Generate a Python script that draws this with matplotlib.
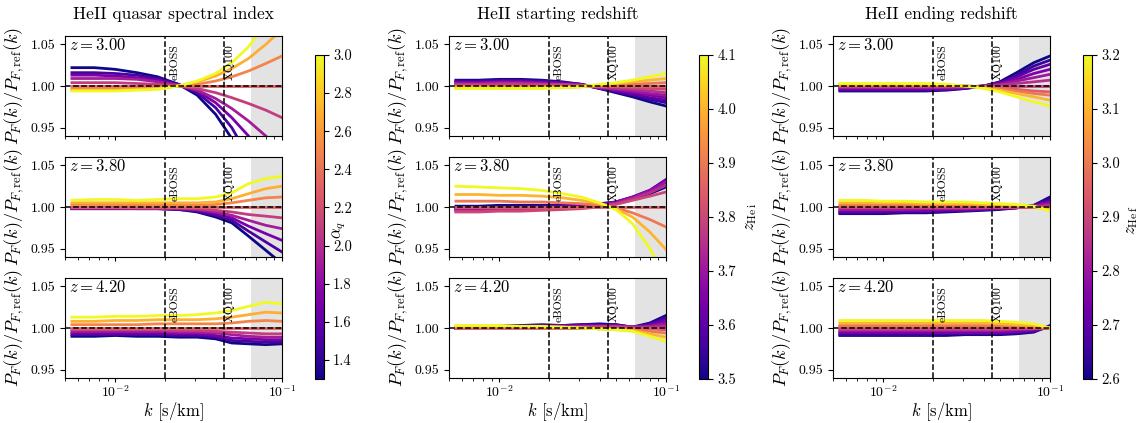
import matplotlib.pyplot as plt
import matplotlib as mpl

plt.rcParams['font.family'] = 'serif'
plt.rcParams['font.serif'] = ['cmr10']
plt.rcParams['mathtext.fontset'] = 'cm'
plt.rcParams['axes.formatter.use_mathtext'] = True
plt.rcParams['axes.unicode_minus'] = False

# wavenumber grid [s/km]
k = [0.0055, 0.0075, 0.01, 0.0135, 0.018, 0.024, 0.031, 0.04, 0.05, 0.063, 0.08, 0.1]

redshifts = ['3.00', '3.80', '4.20']
titles = ['HeII quasar spectral index', 'HeII starting redshift', 'HeII ending redshift']

# --- HeII quasar spectral index ---
alpha_q = [1.3, 1.5, 1.7, 1.9, 2.1, 2.3, 2.5, 2.7, 3.0]
aq_z300 = [
    [1.022, 1.022, 1.020, 1.016, 1.011, 1.002, 0.989, 0.966, 0.937, 0.895, 0.850, 0.800],
    [1.016, 1.016, 1.015, 1.013, 1.009, 1.002, 0.992, 0.974, 0.950, 0.915, 0.880, 0.840],
    [1.013, 1.013, 1.012, 1.010, 1.007, 1.001, 0.994, 0.980, 0.962, 0.940, 0.915, 0.890],
    [1.009, 1.009, 1.009, 1.008, 1.005, 1.001, 0.995, 0.985, 0.973, 0.958, 0.940, 0.920],
    [1.004, 1.004, 1.004, 1.003, 1.002, 1.000, 0.997, 0.992, 0.986, 0.979, 0.971, 0.962],
    [1.000, 1.000, 1.000, 1.000, 1.000, 1.000, 1.000, 1.000, 1.000, 1.000, 1.000, 1.000],
    [0.997, 0.997, 0.997, 0.997, 0.998, 1.000, 1.002, 1.006, 1.011, 1.018, 1.027, 1.036],
    [0.995, 0.995, 0.995, 0.996, 0.997, 1.000, 1.005, 1.012, 1.021, 1.033, 1.050, 1.068],
    [0.994, 0.994, 0.994, 0.995, 0.996, 1.000, 1.006, 1.015, 1.028, 1.047, 1.075, 1.110],
]
aq_z380 = [
    [0.998, 0.998, 0.998, 0.998, 0.998, 0.997, 0.994, 0.988, 0.981, 0.965, 0.948, 0.932],
    [0.998, 0.998, 0.998, 0.998, 0.998, 0.997, 0.995, 0.990, 0.984, 0.971, 0.958, 0.946],
    [0.998, 0.998, 0.998, 0.998, 0.998, 0.998, 0.996, 0.992, 0.987, 0.977, 0.968, 0.960],
    [0.999, 0.999, 0.999, 0.998, 0.998, 0.998, 0.997, 0.994, 0.990, 0.984, 0.978, 0.974],
    [0.999, 0.999, 0.999, 0.999, 0.999, 0.999, 0.998, 0.996, 0.994, 0.991, 0.989, 0.987],
    [1.000, 1.000, 1.000, 1.000, 1.000, 1.000, 1.000, 1.000, 1.000, 1.000, 1.000, 1.000],
    [1.003, 1.003, 1.003, 1.002, 1.002, 1.002, 1.002, 1.003, 1.005, 1.008, 1.011, 1.012],
    [1.005, 1.005, 1.005, 1.005, 1.005, 1.005, 1.005, 1.006, 1.010, 1.016, 1.022, 1.025],
    [1.008, 1.009, 1.009, 1.008, 1.009, 1.010, 1.010, 1.012, 1.017, 1.028, 1.034, 1.037],
]
aq_z420 = [
    [0.990, 0.990, 0.991, 0.990, 0.990, 0.989, 0.989, 0.987, 0.982, 0.981, 0.980, 0.981],
    [0.992, 0.992, 0.992, 0.992, 0.992, 0.991, 0.991, 0.989, 0.985, 0.984, 0.983, 0.983],
    [0.994, 0.994, 0.994, 0.994, 0.994, 0.993, 0.993, 0.991, 0.988, 0.987, 0.986, 0.986],
    [0.996, 0.996, 0.996, 0.996, 0.996, 0.995, 0.995, 0.994, 0.992, 0.990, 0.989, 0.989],
    [0.998, 0.998, 0.998, 0.998, 0.998, 0.997, 0.997, 0.996, 0.995, 0.994, 0.993, 0.993],
    [1.000, 1.000, 1.000, 1.000, 1.000, 1.000, 1.000, 1.000, 1.000, 1.000, 1.000, 1.000],
    [1.004, 1.004, 1.004, 1.004, 1.005, 1.005, 1.005, 1.005, 1.006, 1.008, 1.009, 1.008],
    [1.008, 1.008, 1.009, 1.009, 1.010, 1.010, 1.010, 1.011, 1.013, 1.016, 1.019, 1.018],
    [1.013, 1.013, 1.014, 1.014, 1.015, 1.015, 1.016, 1.018, 1.021, 1.026, 1.031, 1.029],
]

# --- HeII starting redshift ---
z_hei = [3.5, 3.55, 3.6, 3.65, 3.7, 3.75, 3.8, 3.85, 3.9, 4.0, 4.1]
zi_z300 = [
    [1.007, 1.007, 1.008, 1.008, 1.007, 1.005, 1.002, 0.997, 0.992, 0.987, 0.981, 0.976],
    [1.006, 1.006, 1.007, 1.007, 1.006, 1.004, 1.002, 0.997, 0.993, 0.989, 0.984, 0.980],
    [1.005, 1.005, 1.006, 1.006, 1.005, 1.004, 1.002, 0.998, 0.994, 0.990, 0.986, 0.983],
    [1.004, 1.004, 1.005, 1.005, 1.004, 1.003, 1.001, 0.998, 0.995, 0.992, 0.989, 0.986],
    [1.003, 1.003, 1.004, 1.004, 1.003, 1.002, 1.001, 0.998, 0.996, 0.994, 0.991, 0.989],
    [1.002, 1.002, 1.003, 1.003, 1.002, 1.002, 1.001, 0.999, 0.997, 0.996, 0.994, 0.992],
    [1.001, 1.001, 1.001, 1.001, 1.001, 1.001, 1.000, 0.999, 0.999, 0.998, 0.997, 0.996],
    [1.000, 1.000, 1.000, 1.000, 1.000, 1.000, 1.000, 1.000, 1.000, 1.000, 1.000, 1.000],
    [0.999, 0.999, 0.999, 0.999, 0.999, 0.999, 1.000, 1.001, 1.001, 1.002, 1.003, 1.004],
    [0.998, 0.998, 0.998, 0.998, 0.998, 0.998, 0.999, 1.001, 1.003, 1.005, 1.007, 1.009],
    [0.997, 0.997, 0.997, 0.997, 0.997, 0.998, 0.999, 1.002, 1.004, 1.007, 1.011, 1.015],
]
zi_z380 = [
    [1.001, 1.001, 1.002, 1.002, 1.002, 1.002, 1.003, 1.004, 1.006, 1.010, 1.016, 1.024],
    [0.999, 0.999, 1.000, 1.000, 1.001, 1.001, 1.002, 1.003, 1.006, 1.011, 1.019, 1.030],
    [0.998, 0.998, 0.999, 0.999, 1.000, 1.001, 1.002, 1.003, 1.006, 1.012, 1.020, 1.033],
    [0.997, 0.997, 0.998, 0.998, 0.999, 1.000, 1.001, 1.003, 1.006, 1.012, 1.020, 1.032],
    [0.996, 0.996, 0.997, 0.997, 0.998, 0.999, 1.000, 1.002, 1.005, 1.011, 1.019, 1.030],
    [0.995, 0.995, 0.996, 0.996, 0.997, 0.998, 0.999, 1.001, 1.004, 1.010, 1.017, 1.026],
    [0.994, 0.994, 0.995, 0.995, 0.996, 0.997, 0.998, 1.000, 1.003, 1.008, 1.013, 1.018],
    [1.000, 1.000, 1.000, 1.000, 1.000, 1.000, 1.000, 1.000, 1.000, 1.000, 1.000, 1.000],
    [1.007, 1.007, 1.007, 1.006, 1.006, 1.005, 1.004, 1.002, 0.999, 0.993, 0.985, 0.976],
    [1.015, 1.015, 1.014, 1.014, 1.013, 1.011, 1.008, 1.004, 0.998, 0.988, 0.970, 0.949],
    [1.025, 1.024, 1.023, 1.022, 1.020, 1.016, 1.012, 1.005, 0.997, 0.980, 0.950, 0.915],
]
zi_z420 = [
    [1.000, 1.001, 1.002, 1.003, 1.004, 1.003, 1.004, 1.005, 1.004, 1.001, 1.006, 1.015],
    [1.000, 1.001, 1.002, 1.003, 1.003, 1.003, 1.004, 1.004, 1.004, 1.001, 1.005, 1.013],
    [1.000, 1.001, 1.002, 1.002, 1.003, 1.003, 1.003, 1.003, 1.003, 1.001, 1.004, 1.011],
    [1.000, 1.001, 1.002, 1.002, 1.002, 1.002, 1.003, 1.003, 1.003, 1.001, 1.003, 1.008],
    [1.000, 1.001, 1.001, 1.002, 1.002, 1.002, 1.002, 1.002, 1.002, 1.001, 1.002, 1.005],
    [1.000, 1.001, 1.001, 1.001, 1.001, 1.001, 1.001, 1.002, 1.002, 1.001, 1.001, 1.002],
    [1.000, 1.000, 1.001, 1.001, 1.001, 1.001, 1.001, 1.001, 1.001, 1.000, 0.999, 0.998],
    [1.000, 1.000, 1.000, 1.000, 1.000, 1.000, 1.000, 1.000, 1.000, 1.000, 1.000, 1.000],
    [1.001, 1.001, 1.001, 1.001, 1.001, 1.000, 1.000, 0.999, 0.999, 0.998, 0.996, 0.994],
    [1.002, 1.002, 1.002, 1.002, 1.001, 1.001, 1.000, 0.999, 0.998, 0.997, 0.993, 0.989],
    [1.003, 1.003, 1.003, 1.002, 1.002, 1.001, 1.000, 0.999, 0.998, 0.996, 0.990, 0.984],
]

# --- HeII ending redshift ---
z_hef = [2.6, 2.65, 2.7, 2.75, 2.8, 2.85, 2.9, 2.95, 3.0, 3.1, 3.2]
zf_z300 = [
    [0.994, 0.994, 0.994, 0.994, 0.994, 0.995, 0.997, 1.000, 1.005, 1.016, 1.028, 1.036],
    [0.995, 0.995, 0.995, 0.995, 0.995, 0.996, 0.997, 1.000, 1.004, 1.013, 1.024, 1.031],
    [0.996, 0.996, 0.996, 0.996, 0.996, 0.996, 0.998, 1.000, 1.004, 1.011, 1.020, 1.026],
    [0.997, 0.997, 0.997, 0.997, 0.997, 0.997, 0.998, 1.000, 1.003, 1.008, 1.015, 1.020],
    [0.998, 0.998, 0.998, 0.998, 0.998, 0.998, 0.999, 1.000, 1.002, 1.006, 1.010, 1.014],
    [0.999, 0.999, 0.999, 0.999, 0.999, 0.999, 0.999, 1.000, 1.001, 1.003, 1.005, 1.007],
    [1.000, 1.000, 1.000, 1.000, 1.000, 1.000, 1.000, 1.000, 1.000, 1.000, 1.000, 1.000],
    [1.001, 1.001, 1.001, 1.001, 1.001, 1.001, 1.000, 0.999, 0.998, 0.996, 0.994, 0.993],
    [1.001, 1.001, 1.001, 1.001, 1.001, 1.001, 1.000, 0.999, 0.997, 0.994, 0.991, 0.989],
    [1.002, 1.002, 1.002, 1.002, 1.002, 1.001, 1.000, 0.998, 0.995, 0.991, 0.987, 0.983],
    [1.003, 1.003, 1.003, 1.003, 1.003, 1.002, 1.000, 0.997, 0.993, 0.987, 0.981, 0.976],
]
zf_z380 = [
    [0.992, 0.992, 0.992, 0.993, 0.993, 0.994, 0.995, 0.996, 0.997, 0.999, 1.002, 1.012],
    [0.993, 0.993, 0.993, 0.994, 0.994, 0.995, 0.996, 0.997, 0.998, 0.999, 1.002, 1.010],
    [0.994, 0.994, 0.995, 0.995, 0.995, 0.996, 0.996, 0.997, 0.998, 0.999, 1.001, 1.008],
    [0.996, 0.996, 0.996, 0.996, 0.996, 0.997, 0.997, 0.998, 0.999, 0.999, 1.001, 1.006],
    [0.997, 0.997, 0.997, 0.997, 0.998, 0.998, 0.998, 0.999, 0.999, 1.000, 1.001, 1.004],
    [0.999, 0.999, 0.999, 0.999, 0.999, 0.999, 0.999, 0.999, 1.000, 1.000, 1.000, 1.002],
    [1.000, 1.000, 1.000, 1.000, 1.000, 1.000, 1.000, 1.000, 1.000, 1.000, 1.000, 1.000],
    [1.001, 1.001, 1.001, 1.001, 1.001, 1.001, 1.001, 1.001, 1.000, 1.000, 1.000, 0.999],
    [1.002, 1.002, 1.002, 1.002, 1.002, 1.002, 1.002, 1.002, 1.001, 1.001, 1.000, 0.998],
    [1.005, 1.005, 1.005, 1.005, 1.004, 1.004, 1.004, 1.003, 1.003, 1.002, 1.000, 0.997],
    [1.008, 1.008, 1.007, 1.007, 1.006, 1.006, 1.006, 1.005, 1.004, 1.003, 1.001, 0.995],
]
zf_z420 = [
    [0.991, 0.991, 0.991, 0.991, 0.991, 0.991, 0.992, 0.992, 0.992, 0.993, 0.995, 1.003],
    [0.992, 0.992, 0.992, 0.992, 0.992, 0.993, 0.993, 0.993, 0.993, 0.994, 0.996, 1.002],
    [0.994, 0.994, 0.994, 0.994, 0.994, 0.994, 0.994, 0.994, 0.994, 0.995, 0.997, 1.001],
    [0.995, 0.995, 0.995, 0.995, 0.995, 0.995, 0.995, 0.995, 0.995, 0.996, 0.998, 1.001],
    [0.997, 0.997, 0.997, 0.997, 0.997, 0.997, 0.997, 0.997, 0.997, 0.998, 0.999, 1.000],
    [0.998, 0.998, 0.998, 0.998, 0.998, 0.998, 0.998, 0.998, 0.998, 0.999, 0.999, 1.000],
    [1.000, 1.000, 1.000, 1.000, 1.000, 1.000, 1.000, 1.000, 1.000, 1.000, 1.000, 1.000],
    [1.002, 1.002, 1.002, 1.002, 1.002, 1.002, 1.002, 1.002, 1.002, 1.001, 1.001, 1.000],
    [1.003, 1.003, 1.003, 1.003, 1.003, 1.003, 1.003, 1.003, 1.003, 1.002, 1.001, 1.000],
    [1.006, 1.006, 1.006, 1.006, 1.006, 1.006, 1.006, 1.006, 1.005, 1.004, 1.003, 1.000],
    [1.009, 1.009, 1.009, 1.009, 1.009, 1.009, 1.009, 1.009, 1.008, 1.007, 1.005, 1.000],
]

columns = [
    (alpha_q, [aq_z300, aq_z380, aq_z420], 1.3, 3.0, [1.4, 1.6, 1.8, 2.0, 2.2, 2.4, 2.6, 2.8, 3.0], r'$\alpha_q$'),
    (z_hei, [zi_z300, zi_z380, zi_z420], 3.5, 4.1, [3.5, 3.6, 3.7, 3.8, 3.9, 4.0, 4.1], r'$z_{\mathrm{He\,i}}$'),
    (z_hef, [zf_z300, zf_z380, zf_z420], 2.6, 3.2, [2.6, 2.7, 2.8, 2.9, 3.0, 3.1, 3.2], r'$z_{\mathrm{He\,f}}$'),
]
# colorbar label placement (cax axes coords)
cbar_label_xy = [(1.8, 0.46), (5.25, 0.5), (4.9, 0.49)]

W, H = 1147, 423
fig = plt.figure(figsize=(W / 100, H / 100), dpi=100)


def px_axes(x, y, w, h):
    return fig.add_axes([x / W, 1 - (y + h) / H, w / W, h / H])


col_left = [65, 449, 833]
row_top = [36, 157, 278]
cbar_left = [315, 699, 1083]
cmap = plt.get_cmap('plasma')

for c, (params, panels, vmin, vmax, cticks, clabel) in enumerate(columns):
    norm = mpl.colors.Normalize(vmin=vmin, vmax=vmax)
    for r, ratios in enumerate(panels):
        ax = px_axes(col_left[c], row_top[r], 217, 100)
        ax.axvspan(0.065, 0.1, color='#e3e3e3', lw=0, zorder=0)
        for p, vals in zip(params, ratios):
            ax.plot(k, vals, color=cmap(norm(p)), lw=2)
        ax.axhline(1.0, color='k', ls='--', lw=1.1)
        for kv in [0.02, 0.045]:
            ax.axvline(kv, color='k', ls='--', lw=1.1)
        tr = ax.get_xaxis_transform()
        ax.text(0.0212, 0.92, 'eBOSS', transform=tr, rotation=90, ha='left', va='top', fontsize=8.5)
        ax.text(0.0456, 0.92, 'XQ100', transform=tr, rotation=90, ha='left', va='top', fontsize=8.5)
        ax.text(0.02, 0.99, r'$z = %s$' % redshifts[r], transform=ax.transAxes, ha='left', va='top', fontsize=12)
        ax.set_xscale('log')
        ax.set_xlim(0.005, 0.1)
        ax.set_ylim(0.94, 1.06)
        ax.set_yticks([0.95, 1.00, 1.05])
        ax.set_yticklabels(['0.95', '1.00', '1.05'])
        ax.tick_params(labelsize=10)
        ax.tick_params(axis='x', which='major', length=3, pad=1.5)
        ax.tick_params(axis='x', which='minor', length=2)
        ax.set_ylabel(r'$P_F(k)/P_{F,\mathrm{ref}}(k)$', fontsize=13, labelpad=3)
        if r == 0:
            ax.set_title(titles[c], fontsize=12.5, pad=12)
        if r < 2:
            ax.tick_params(labelbottom=False)
        else:
            ax.set_xlabel(r'$k$ [s/km]', fontsize=12, labelpad=0)

    cax = px_axes(cbar_left[c], 55, 8.5, 324)
    sm = mpl.cm.ScalarMappable(norm=norm, cmap=cmap)
    cb = fig.colorbar(sm, cax=cax)
    cb.set_ticks(cticks)
    cb.set_ticklabels(['%.1f' % t for t in cticks])
    cb.ax.tick_params(labelsize=10.5)
    cb.set_label(clabel, fontsize=12)
    cb.ax.yaxis.set_label_coords(*cbar_label_xy[c])

fig.savefig('out.png', dpi=100)
